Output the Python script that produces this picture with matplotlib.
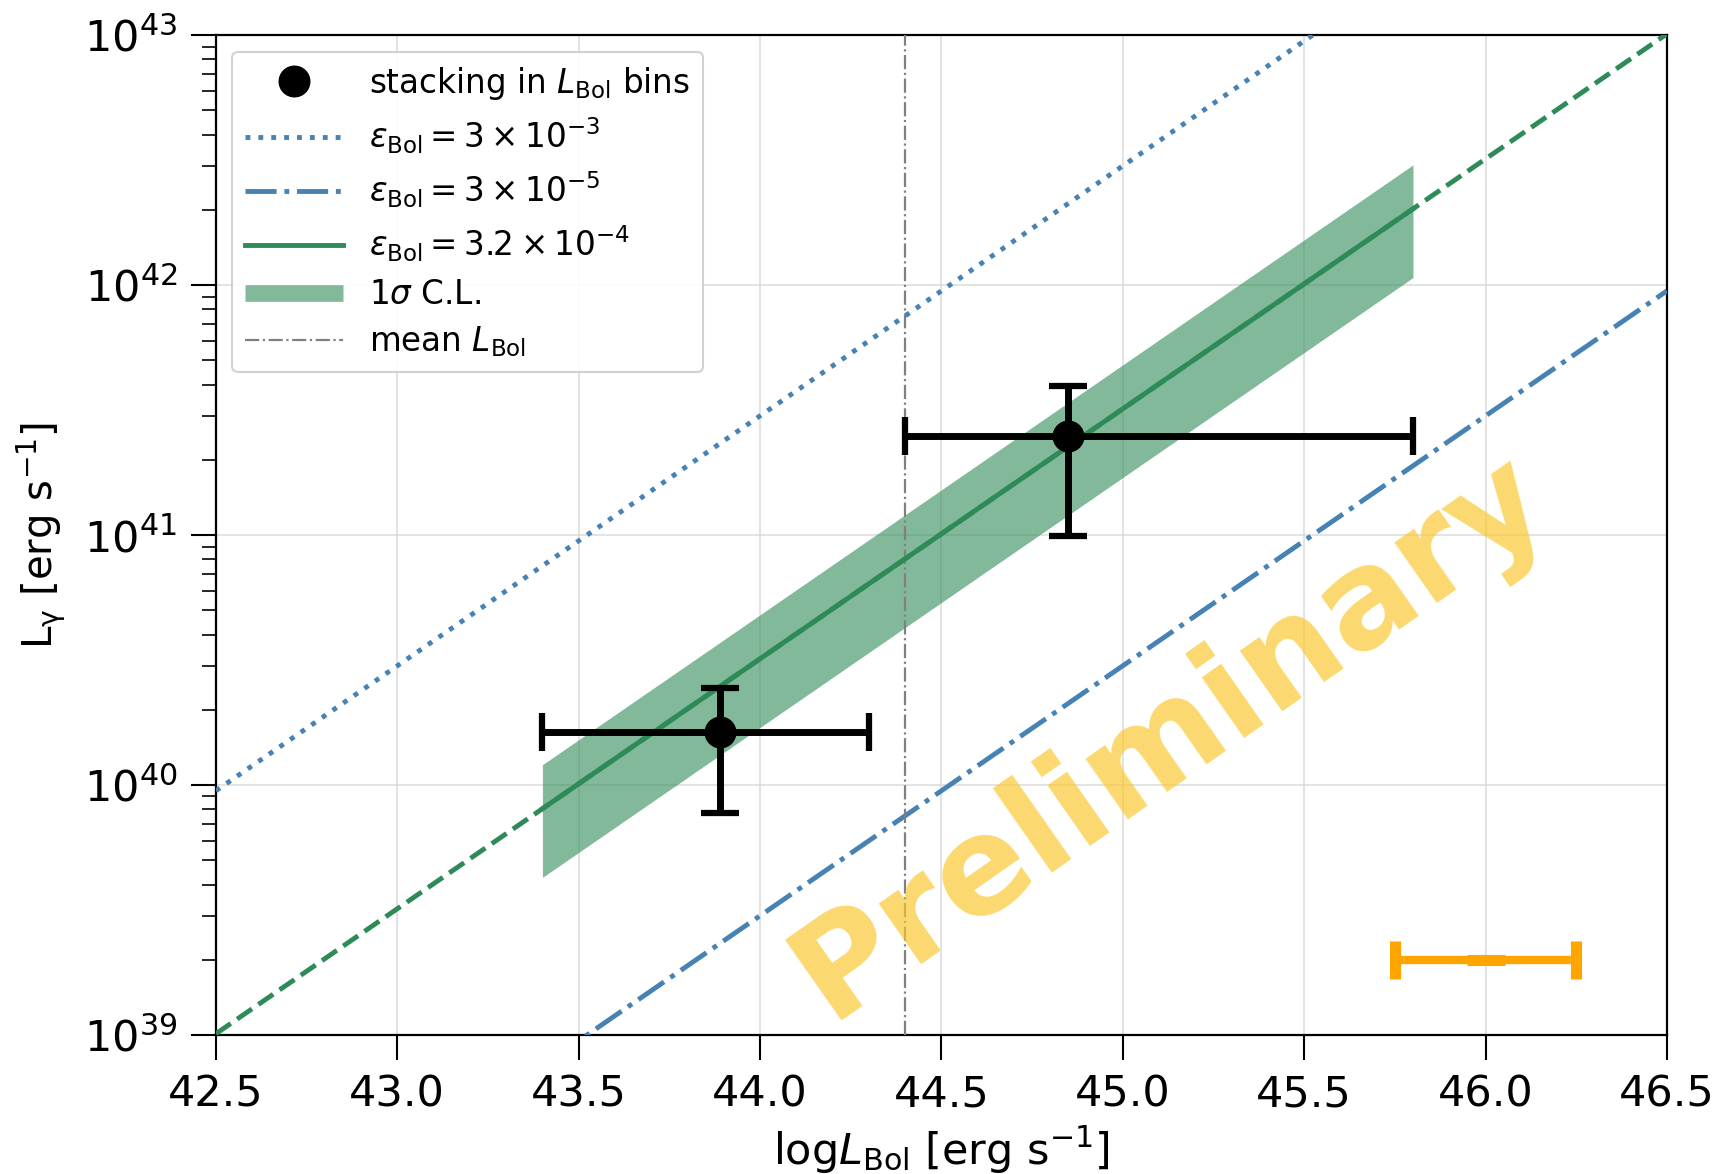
import numpy as np
import matplotlib
matplotlib.use("Agg")
import matplotlib.pyplot as plt
from matplotlib.lines import Line2D

# ---- data ----
x_pts = [43.89, 44.85]
y_pts = [1.63e40, 2.49e41]
x_lo = [43.40, 44.40]
x_hi = [44.30, 45.80]
y_lo = [7.7e39, 9.9e40]
y_hi = [2.45e40, 3.96e41]

eps_hi_line = 3e-3
eps_lo_line = 3e-5
eps_fit = 3.2e-4
eps_band_lo = 1.7e-4
eps_band_hi = 4.8e-4
fit_range = [43.4, 45.8]
mean_lbol = 44.4

orange_x = [46.0]
orange_y = [2e39]
orange_xerr = [0.25]

x_full = [42.5, 46.5]
xticks = [42.5, 43.0, 43.5, 44.0, 44.5, 45.0, 45.5, 46.0, 46.5]

# ---- figure ----
fig = plt.figure(figsize=(17.22, 11.74), dpi=100)
ax = fig.add_axes([0.1254, 0.1184, 0.8426, 0.8516])

xf = np.array(x_full)
xr = np.linspace(fit_range[0], fit_range[1], 50)

ax.plot(xf, eps_hi_line * 10**xf, ls=':', color='steelblue', lw=3.5, zorder=3)
ax.plot(xf, eps_lo_line * 10**xf, ls='-.', color='steelblue', lw=3.5, zorder=3)
ax.plot(xf, eps_fit * 10**xf, ls='--', color='seagreen', lw=3.5, zorder=3)
ax.plot(xr, eps_fit * 10**xr, ls='-', color='seagreen', lw=3.5, zorder=4)
ax.fill_between(xr, eps_band_lo * 10**xr, eps_band_hi * 10**xr,
                color='seagreen', alpha=0.6, lw=0, zorder=2)
ax.axvline(mean_lbol, color='gray', ls='-.', lw=1.6, zorder=3)

xe = [np.array(x_pts) - np.array(x_lo), np.array(x_hi) - np.array(x_pts)]
ye = [np.array(y_pts) - np.array(y_lo), np.array(y_hi) - np.array(y_pts)]
ax.errorbar(x_pts, y_pts, xerr=xe, yerr=ye, fmt='o', color='black', ms=22,
            elinewidth=5, capsize=14, capthick=4.5, zorder=6)

ax.errorbar(orange_x, orange_y, xerr=orange_xerr, fmt='_', color='orange', ms=27,
            mew=8, elinewidth=6, capsize=14, capthick=5, zorder=6)

ax.text(45.13, 1.57e40, 'Preliminary', fontsize=98, fontweight='bold',
        color='#FAC832', alpha=0.7, rotation=35, ha='center', va='center',
        zorder=7)

ax.set_yscale('log')
ax.set_xlim(42.5, 46.5)
ax.set_ylim(1e39, 1e43)
ax.set_xticks(xticks)
ax.set_xticklabels([f'{t:.1f}' for t in xticks])
ax.grid(True, which='major', color='#d9d9d9', lw=1.3, alpha=0.8, zorder=0)
ax.set_axisbelow(True)

ax.tick_params(axis='both', which='major', labelsize=31, length=18, width=1.5, pad=10)
ax.tick_params(axis='y', which='minor', length=10, width=1.2)
for s in ax.spines.values():
    s.set_linewidth(1.6)

ax.set_xlabel(r'log$L_{\rm Bol}$ [erg s$^{-1}$]', fontsize=31, labelpad=6)
ax.set_ylabel(r'L$_{\mathrm{\gamma}}$ [erg s$^{-1}$]', fontsize=29, labelpad=12)

handles = [
    Line2D([], [], ls='none', marker='o', color='black', ms=22),
    Line2D([], [], ls=':', color='steelblue', lw=3.5),
    Line2D([], [], ls='-.', color='steelblue', lw=3.5),
    Line2D([], [], ls='-', color='seagreen', lw=3.5),
    Line2D([], [], ls='-', color='seagreen', alpha=0.6, lw=12, solid_capstyle='butt'),
    Line2D([], [], ls='-.', color='gray', lw=1.6),
]
labels = [
    r'stacking in $L_{\rm Bol}$ bins',
    r'$\varepsilon_{\rm Bol} = 3 \times 10^{-3}$',
    r'$\varepsilon_{\rm Bol} = 3 \times 10^{-5}$',
    r'$\varepsilon_{\rm Bol} = 3.2 \times 10^{-4}$',
    r'$1\sigma$ C.L.',
    r'mean $L_{\rm Bol}$',
]
leg = ax.legend(handles, labels, loc='upper left', fontsize=23.5, handlelength=3.0,
                handletextpad=0.8, labelspacing=0.42, borderpad=0.4,
                framealpha=0.9, edgecolor='#cccccc')
leg.get_frame().set_linewidth(1.5)

fig.savefig('out.png', dpi=100)
